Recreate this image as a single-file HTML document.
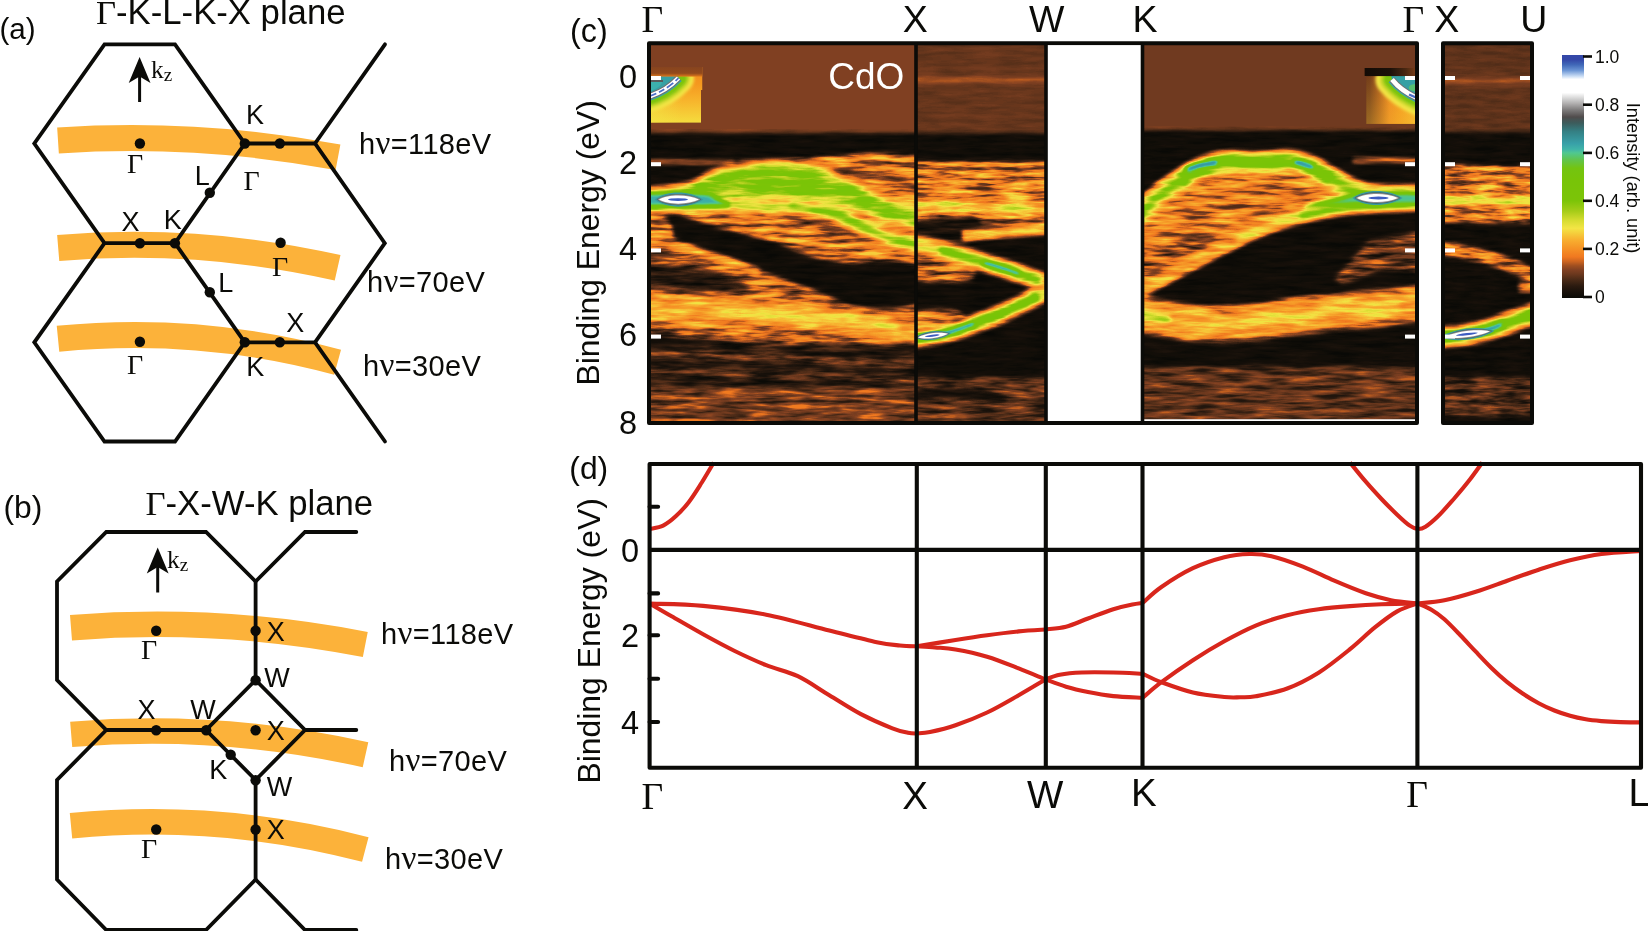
<!DOCTYPE html>
<html><head><meta charset="utf-8"><title>CdO ARPES figure</title>
<style>html,body{margin:0;padding:0;background:#fff;}body{width:1648px;height:931px;overflow:hidden;}svg{display:block;}</style>
</head><body>
<svg width="1648" height="931" viewBox="0 0 1648 931">
<rect width="1648" height="931" fill="#fff"/>
<g fill="none" stroke="#FCB23A" stroke-width="26">
<path d="M58,140.5 A1124,1124 0 0 1 338,157.3"/>
<path d="M58.2,248 A921,921 0 0 1 337.6,267.8"/>
<path d="M58,338.8 A776,776 0 0 1 337.6,362.2"/>
</g>
<g fill="none" stroke="#0b0b08" stroke-width="3.8" stroke-linejoin="miter" stroke-linecap="butt">
<path d="M104.5,44.3 L175,44.3 L244.8,143.5 L175,243.2 L104.5,243.2 L34.3,143.5 Z"/>
<path d="M104.5,243.2 L34.3,342.3 L104.5,441.5 L175,441.5 L244.8,342.3 L175,243.2"/>
<path d="M244.8,143.5 L315,143.5 L384.8,243.2 L315,342.3 L244.8,342.3"/>
<path d="M315,143.5 L385,44.3" stroke-linecap="round"/>
<path d="M315,342.3 L385,441.5" stroke-linecap="round"/>
</g>
<g fill="#0b0b08"><circle cx="139.9" cy="143.5" r="5.2"/><circle cx="244.8" cy="143.5" r="5.2"/><circle cx="279.8" cy="143.5" r="5.2"/><circle cx="209.8" cy="192.8" r="5.2"/><circle cx="139.9" cy="243.2" r="5.2"/><circle cx="174.9" cy="243.2" r="5.2"/><circle cx="280.6" cy="242.8" r="5.2"/><circle cx="209.8" cy="292.3" r="5.2"/><circle cx="244.8" cy="342.3" r="5.2"/><circle cx="279.8" cy="342.3" r="5.2"/><circle cx="139.9" cy="341.8" r="5.2"/></g>
<path d="M139.6,102 L139.6,72" stroke="#0b0b08" stroke-width="3" fill="none"/>
<path d="M139.6,57 L150.5,83 L139.6,76.5 L128.7,83 Z" fill="#0b0b08"/>
<g fill="none" stroke="#FCB23A" stroke-width="25.5">
<path d="M71,627.7 A1085,1085 0 0 1 365.3,644.5"/>
<path d="M71.2,734.4 A979,979 0 0 1 365.5,754.8"/>
<path d="M71,825.7 A842,842 0 0 1 365.3,849.5"/>
</g>
<g fill="none" stroke="#0b0b08" stroke-width="3.8" stroke-linejoin="miter" stroke-linecap="butt">
<path d="M106.3,532 L206,532 L255.6,581.5 L255.6,680 L206,730 L106.3,730 L57,680 L57,581.5 Z"/>
<path d="M106.3,730 L57,780 L57,879.5 L106.3,930 L206,930 L255.6,879.5 L255.6,780 L206,730"/>
<path d="M255.6,581.5 L305,532 L356.3,532" stroke-linecap="round"/>
<path d="M255.6,680 L305,730 L255.6,780"/>
<path d="M305,730 L356.3,730" stroke-linecap="round"/>
<path d="M255.6,879.5 L305,930 L356.3,930" stroke-linecap="round"/>
</g>
<g fill="#0b0b08"><circle cx="156.2" cy="630.8" r="5.2"/><circle cx="255.6" cy="630.8" r="5.2"/><circle cx="255.6" cy="680.2" r="5.2"/><circle cx="156.2" cy="730.2" r="5.2"/><circle cx="206.2" cy="730.2" r="5.2"/><circle cx="255.6" cy="730.2" r="5.2"/><circle cx="230.7" cy="754.8" r="5.2"/><circle cx="255.6" cy="780.2" r="5.2"/><circle cx="156.2" cy="829.5" r="5.2"/><circle cx="255.6" cy="829.5" r="5.2"/></g>
<path d="M157.7,592.5 L157.7,562" stroke="#0b0b08" stroke-width="3" fill="none"/>
<path d="M157.7,547.5 L168.6,573.5 L157.7,567 L146.8,573.5 Z" fill="#0b0b08"/>
<defs>
<filter id="fa1" filterUnits="userSpaceOnUse" x="640" y="36" width="910" height="396" color-interpolation-filters="sRGB"><feGaussianBlur in="SourceGraphic" stdDeviation="2.2" result="bl"/><feTurbulence type="fractalNoise" baseFrequency="0.028 0.21" numOctaves="3" seed="3" result="tn"/><feColorMatrix in="tn" type="matrix" values="1.80 0 0 0 -0.40  1.80 0 0 0 -0.40  1.80 0 0 0 -0.40  0 0 0 0 1" result="nz"/><feColorMatrix in="bl" type="matrix" values="1 0 0 0 0  1 0 0 0 0  1 0 0 0 0  0 0 0 0 1" result="I0"/><feColorMatrix in="bl" type="matrix" values="0 0.500 0 0 0  0 0.500 0 0 0  0 0.500 0 0 0  0 0 0 0 1" result="M"/><feComposite in="I0" in2="M" operator="arithmetic" k1="0" k2="1" k3="-1" k4="0" result="A"/><feComposite in="M" in2="nz" operator="arithmetic" k1="2" k2="0" k3="0" k4="0" result="Bn"/><feComposite in="A" in2="Bn" operator="arithmetic" k1="0" k2="1" k3="1" k4="0" result="I"/><feComponentTransfer in="I"><feFuncR type="table" tableValues="0.039 0.063 0.086 0.110 0.141 0.173 0.220 0.267 0.318 0.375 0.431 0.478 0.537 0.607 0.699 0.800 0.874 0.942 0.948 0.954 0.961 0.964 0.967 0.970 0.973 0.968 0.964 0.960 0.956 0.942 0.907 0.871 0.835 0.786 0.736 0.687 0.639 0.601 0.563 0.525 0.486 0.484 0.483 0.481 0.479 0.477 0.475 0.474 0.472 0.469 0.466 0.463 0.459 0.456 0.442 0.420 0.398 0.376 0.353 0.330 0.301 0.259 0.241 0.227 0.218 0.215 0.212 0.209 0.206 0.208 0.217"/><feFuncG type="table" tableValues="0.039 0.051 0.063 0.075 0.090 0.106 0.129 0.153 0.176 0.200 0.224 0.242 0.267 0.300 0.344 0.392 0.433 0.474 0.504 0.534 0.565 0.596 0.627 0.659 0.690 0.734 0.779 0.823 0.867 0.895 0.884 0.873 0.863 0.846 0.830 0.813 0.799 0.791 0.784 0.776 0.769 0.769 0.769 0.769 0.769 0.769 0.769 0.769 0.769 0.769 0.769 0.769 0.769 0.769 0.769 0.769 0.769 0.769 0.774 0.780 0.769 0.716 0.680 0.647 0.617 0.592 0.566 0.540 0.515 0.482 0.441"/><feFuncB type="table" tableValues="0.024 0.031 0.039 0.047 0.055 0.063 0.074 0.085 0.096 0.107 0.118 0.128 0.131 0.127 0.125 0.125 0.125 0.126 0.132 0.139 0.145 0.156 0.167 0.177 0.188 0.206 0.223 0.241 0.258 0.263 0.238 0.213 0.188 0.163 0.139 0.114 0.091 0.076 0.061 0.046 0.031 0.031 0.031 0.031 0.031 0.031 0.031 0.031 0.031 0.034 0.041 0.047 0.054 0.060 0.105 0.174 0.244 0.314 0.407 0.500 0.584 0.646 0.659 0.659 0.647 0.618 0.590 0.561 0.532 0.495 0.450"/></feComponentTransfer></filter>
<filter id="fa2" filterUnits="userSpaceOnUse" x="640" y="36" width="910" height="396" color-interpolation-filters="sRGB"><feGaussianBlur in="SourceGraphic" stdDeviation="2.2" result="bl"/><feTurbulence type="fractalNoise" baseFrequency="0.032 0.21" numOctaves="3" seed="11" result="tn"/><feColorMatrix in="tn" type="matrix" values="1.80 0 0 0 -0.40  1.80 0 0 0 -0.40  1.80 0 0 0 -0.40  0 0 0 0 1" result="nz"/><feColorMatrix in="bl" type="matrix" values="1 0 0 0 0  1 0 0 0 0  1 0 0 0 0  0 0 0 0 1" result="I0"/><feColorMatrix in="bl" type="matrix" values="0 0.500 0 0 0  0 0.500 0 0 0  0 0.500 0 0 0  0 0 0 0 1" result="M"/><feComposite in="I0" in2="M" operator="arithmetic" k1="0" k2="1" k3="-1" k4="0" result="A"/><feComposite in="M" in2="nz" operator="arithmetic" k1="2" k2="0" k3="0" k4="0" result="Bn"/><feComposite in="A" in2="Bn" operator="arithmetic" k1="0" k2="1" k3="1" k4="0" result="I"/><feComponentTransfer in="I"><feFuncR type="table" tableValues="0.039 0.063 0.086 0.110 0.141 0.173 0.220 0.267 0.318 0.375 0.431 0.478 0.537 0.607 0.699 0.800 0.874 0.942 0.948 0.954 0.961 0.964 0.967 0.970 0.973 0.968 0.964 0.960 0.956 0.942 0.907 0.871 0.835 0.786 0.736 0.687 0.639 0.601 0.563 0.525 0.486 0.484 0.483 0.481 0.479 0.477 0.475 0.474 0.472 0.469 0.466 0.463 0.459 0.456 0.442 0.420 0.398 0.376 0.353 0.330 0.301 0.259 0.241 0.227 0.218 0.215 0.212 0.209 0.206 0.208 0.217"/><feFuncG type="table" tableValues="0.039 0.051 0.063 0.075 0.090 0.106 0.129 0.153 0.176 0.200 0.224 0.242 0.267 0.300 0.344 0.392 0.433 0.474 0.504 0.534 0.565 0.596 0.627 0.659 0.690 0.734 0.779 0.823 0.867 0.895 0.884 0.873 0.863 0.846 0.830 0.813 0.799 0.791 0.784 0.776 0.769 0.769 0.769 0.769 0.769 0.769 0.769 0.769 0.769 0.769 0.769 0.769 0.769 0.769 0.769 0.769 0.769 0.769 0.774 0.780 0.769 0.716 0.680 0.647 0.617 0.592 0.566 0.540 0.515 0.482 0.441"/><feFuncB type="table" tableValues="0.024 0.031 0.039 0.047 0.055 0.063 0.074 0.085 0.096 0.107 0.118 0.128 0.131 0.127 0.125 0.125 0.125 0.126 0.132 0.139 0.145 0.156 0.167 0.177 0.188 0.206 0.223 0.241 0.258 0.263 0.238 0.213 0.188 0.163 0.139 0.114 0.091 0.076 0.061 0.046 0.031 0.031 0.031 0.031 0.031 0.031 0.031 0.031 0.031 0.034 0.041 0.047 0.054 0.060 0.105 0.174 0.244 0.314 0.407 0.500 0.584 0.646 0.659 0.659 0.647 0.618 0.590 0.561 0.532 0.495 0.450"/></feComponentTransfer></filter>
<filter id="fa3" filterUnits="userSpaceOnUse" x="640" y="36" width="910" height="396" color-interpolation-filters="sRGB"><feGaussianBlur in="SourceGraphic" stdDeviation="2.2" result="bl"/><feTurbulence type="fractalNoise" baseFrequency="0.028 0.21" numOctaves="3" seed="7" result="tn"/><feColorMatrix in="tn" type="matrix" values="1.80 0 0 0 -0.40  1.80 0 0 0 -0.40  1.80 0 0 0 -0.40  0 0 0 0 1" result="nz"/><feColorMatrix in="bl" type="matrix" values="1 0 0 0 0  1 0 0 0 0  1 0 0 0 0  0 0 0 0 1" result="I0"/><feColorMatrix in="bl" type="matrix" values="0 0.500 0 0 0  0 0.500 0 0 0  0 0.500 0 0 0  0 0 0 0 1" result="M"/><feComposite in="I0" in2="M" operator="arithmetic" k1="0" k2="1" k3="-1" k4="0" result="A"/><feComposite in="M" in2="nz" operator="arithmetic" k1="2" k2="0" k3="0" k4="0" result="Bn"/><feComposite in="A" in2="Bn" operator="arithmetic" k1="0" k2="1" k3="1" k4="0" result="I"/><feComponentTransfer in="I"><feFuncR type="table" tableValues="0.039 0.063 0.086 0.110 0.141 0.173 0.220 0.267 0.318 0.375 0.431 0.478 0.537 0.607 0.699 0.800 0.874 0.942 0.948 0.954 0.961 0.964 0.967 0.970 0.973 0.968 0.964 0.960 0.956 0.942 0.907 0.871 0.835 0.786 0.736 0.687 0.639 0.601 0.563 0.525 0.486 0.484 0.483 0.481 0.479 0.477 0.475 0.474 0.472 0.469 0.466 0.463 0.459 0.456 0.442 0.420 0.398 0.376 0.353 0.330 0.301 0.259 0.241 0.227 0.218 0.215 0.212 0.209 0.206 0.208 0.217"/><feFuncG type="table" tableValues="0.039 0.051 0.063 0.075 0.090 0.106 0.129 0.153 0.176 0.200 0.224 0.242 0.267 0.300 0.344 0.392 0.433 0.474 0.504 0.534 0.565 0.596 0.627 0.659 0.690 0.734 0.779 0.823 0.867 0.895 0.884 0.873 0.863 0.846 0.830 0.813 0.799 0.791 0.784 0.776 0.769 0.769 0.769 0.769 0.769 0.769 0.769 0.769 0.769 0.769 0.769 0.769 0.769 0.769 0.769 0.769 0.769 0.769 0.774 0.780 0.769 0.716 0.680 0.647 0.617 0.592 0.566 0.540 0.515 0.482 0.441"/><feFuncB type="table" tableValues="0.024 0.031 0.039 0.047 0.055 0.063 0.074 0.085 0.096 0.107 0.118 0.128 0.131 0.127 0.125 0.125 0.125 0.126 0.132 0.139 0.145 0.156 0.167 0.177 0.188 0.206 0.223 0.241 0.258 0.263 0.238 0.213 0.188 0.163 0.139 0.114 0.091 0.076 0.061 0.046 0.031 0.031 0.031 0.031 0.031 0.031 0.031 0.031 0.031 0.034 0.041 0.047 0.054 0.060 0.105 0.174 0.244 0.314 0.407 0.500 0.584 0.646 0.659 0.659 0.647 0.618 0.590 0.561 0.532 0.495 0.450"/></feComponentTransfer></filter>
<filter id="fa4" filterUnits="userSpaceOnUse" x="640" y="36" width="910" height="396" color-interpolation-filters="sRGB"><feGaussianBlur in="SourceGraphic" stdDeviation="2.2" result="bl"/><feTurbulence type="fractalNoise" baseFrequency="0.036 0.21" numOctaves="3" seed="23" result="tn"/><feColorMatrix in="tn" type="matrix" values="1.80 0 0 0 -0.40  1.80 0 0 0 -0.40  1.80 0 0 0 -0.40  0 0 0 0 1" result="nz"/><feColorMatrix in="bl" type="matrix" values="1 0 0 0 0  1 0 0 0 0  1 0 0 0 0  0 0 0 0 1" result="I0"/><feColorMatrix in="bl" type="matrix" values="0 0.500 0 0 0  0 0.500 0 0 0  0 0.500 0 0 0  0 0 0 0 1" result="M"/><feComposite in="I0" in2="M" operator="arithmetic" k1="0" k2="1" k3="-1" k4="0" result="A"/><feComposite in="M" in2="nz" operator="arithmetic" k1="2" k2="0" k3="0" k4="0" result="Bn"/><feComposite in="A" in2="Bn" operator="arithmetic" k1="0" k2="1" k3="1" k4="0" result="I"/><feComponentTransfer in="I"><feFuncR type="table" tableValues="0.039 0.063 0.086 0.110 0.141 0.173 0.220 0.267 0.318 0.375 0.431 0.478 0.537 0.607 0.699 0.800 0.874 0.942 0.948 0.954 0.961 0.964 0.967 0.970 0.973 0.968 0.964 0.960 0.956 0.942 0.907 0.871 0.835 0.786 0.736 0.687 0.639 0.601 0.563 0.525 0.486 0.484 0.483 0.481 0.479 0.477 0.475 0.474 0.472 0.469 0.466 0.463 0.459 0.456 0.442 0.420 0.398 0.376 0.353 0.330 0.301 0.259 0.241 0.227 0.218 0.215 0.212 0.209 0.206 0.208 0.217"/><feFuncG type="table" tableValues="0.039 0.051 0.063 0.075 0.090 0.106 0.129 0.153 0.176 0.200 0.224 0.242 0.267 0.300 0.344 0.392 0.433 0.474 0.504 0.534 0.565 0.596 0.627 0.659 0.690 0.734 0.779 0.823 0.867 0.895 0.884 0.873 0.863 0.846 0.830 0.813 0.799 0.791 0.784 0.776 0.769 0.769 0.769 0.769 0.769 0.769 0.769 0.769 0.769 0.769 0.769 0.769 0.769 0.769 0.769 0.769 0.769 0.769 0.774 0.780 0.769 0.716 0.680 0.647 0.617 0.592 0.566 0.540 0.515 0.482 0.441"/><feFuncB type="table" tableValues="0.024 0.031 0.039 0.047 0.055 0.063 0.074 0.085 0.096 0.107 0.118 0.128 0.131 0.127 0.125 0.125 0.125 0.126 0.132 0.139 0.145 0.156 0.167 0.177 0.188 0.206 0.223 0.241 0.258 0.263 0.238 0.213 0.188 0.163 0.139 0.114 0.091 0.076 0.061 0.046 0.031 0.031 0.031 0.031 0.031 0.031 0.031 0.031 0.031 0.034 0.041 0.047 0.054 0.060 0.105 0.174 0.244 0.314 0.407 0.500 0.584 0.646 0.659 0.659 0.647 0.618 0.590 0.561 0.532 0.495 0.450"/></feComponentTransfer></filter>
<clipPath id="cs1"><rect x="650" y="45" width="265" height="376.5"/></clipPath>
<clipPath id="cs2"><rect x="917" y="45" width="128" height="376.5"/></clipPath>
<clipPath id="cs3"><rect x="1143" y="45" width="273" height="374.3"/></clipPath>
<clipPath id="cs4"><rect x="1444" y="45" width="87" height="376.5"/></clipPath>
</defs>
<g clip-path="url(#cs1)"><g filter="url(#fa1)"><rect x="640.0" y="36.0" width="290.0" height="400.0" fill="#000900"/>
<rect x="640.0" y="36.0" width="290.0" height="97.5" fill="#2a0900"/>
<path d="M636.0,200.0 C644.7,198.5 675.3,195.2 688.0,191.0 C700.7,186.8 704.2,179.7 712.0,175.0 C719.8,170.3 727.0,165.5 735.0,163.0 C743.0,160.5 727.5,160.5 760.0,160.0 C792.5,159.5 901.7,143.7 930.0,160.0 C958.3,176.3 936.7,241.2 930.0,258.0 C923.3,274.8 902.2,260.0 890.0,261.0 C877.8,262.0 867.8,264.2 857.0,264.0 C846.2,263.8 834.5,261.8 825.0,260.0 C815.5,258.2 808.5,255.8 800.0,253.0 C791.5,250.2 787.0,247.0 774.0,243.0 C761.0,239.0 739.2,234.0 722.0,229.0 C704.8,224.0 685.3,215.7 671.0,213.0 C656.7,210.3 641.8,213.0 636.0,213.0 Z" fill="#3b4c00"/>
<rect x="640.0" y="159.5" width="95.0" height="5.0" fill="#372400"/>
<path d="M830.0,168.0 C836.7,169.3 853.3,172.3 870.0,176.0 C886.7,179.7 920.0,187.7 930.0,190.0" fill="none" stroke="#1a2400" stroke-width="4.0" stroke-linecap="butt"/>
<path d="M760.0,206.0 C770.0,209.3 800.0,221.0 820.0,226.0 C840.0,231.0 870.0,234.3 880.0,236.0" fill="none" stroke="#1d2c00" stroke-width="4.0" stroke-linecap="butt"/>
<path d="M636.0,226.0 C641.8,227.7 656.7,230.8 671.0,236.0 C685.3,241.2 707.0,251.3 722.0,257.0 C737.0,262.7 748.0,265.5 761.0,270.0 C774.0,274.5 787.2,279.2 800.0,284.0 C812.8,288.8 828.5,295.3 838.0,299.0 C847.5,302.7 848.3,304.4 857.0,306.0 C865.7,307.6 877.8,308.5 890.0,308.5 C902.2,308.5 923.3,299.1 930.0,306.0 C936.7,312.9 979.0,345.2 930.0,350.0 C881.0,354.8 685.0,337.5 636.0,335.0 Z" fill="#344900"/>
<path d="M636.0,215.0 C640.0,214.8 654.2,212.5 660.0,214.0 C665.8,215.5 669.2,220.2 671.0,224.0 C672.8,227.8 676.8,236.0 671.0,237.0 C665.2,238.0 641.8,231.2 636.0,230.0 Z" fill="#3e4900"/>
<path d="M636.0,243.0 C646.7,244.5 679.3,247.2 700.0,252.0 C720.7,256.8 750.0,268.7 760.0,272.0" fill="none" stroke="#503a00" stroke-width="7.0" stroke-linecap="butt"/>
<path d="M636.0,263.0 C646.7,264.0 681.3,265.0 700.0,269.0 C718.7,273.0 748.0,283.2 748.0,287.0 C748.0,290.8 718.7,292.3 700.0,292.0 C681.3,291.7 646.7,286.2 636.0,285.0 Z" fill="#101d00"/>
<path d="M636.0,310.0 C659.0,310.6 738.2,311.8 774.0,313.7 C809.8,315.6 831.7,318.9 851.0,321.5 C870.3,324.1 876.8,326.4 890.0,329.0 C903.2,331.6 923.3,335.7 930.0,337.0" fill="none" stroke="#453a00" stroke-width="32.0" stroke-linecap="butt"/>
<path d="M636.0,310.0 C659.0,310.6 738.2,311.8 774.0,313.7 C809.8,315.6 831.7,318.9 851.0,321.5 C870.3,324.1 876.8,326.4 890.0,329.0 C903.2,331.6 923.3,335.7 930.0,337.0" fill="none" stroke="#572c00" stroke-width="18.0" stroke-linecap="butt"/>
<path d="M740.0,312.0 C758.5,313.3 824.3,317.0 851.0,320.0 C877.7,323.0 891.8,328.3 900.0,330.0" fill="none" stroke="#642400" stroke-width="7.0" stroke-linecap="butt"/>
<rect x="640.0" y="344.0" width="290.0" height="42.0" fill="#101d00"/>
<path d="M636.0,353.0 C656.7,353.7 711.0,354.8 760.0,357.0 C809.0,359.2 901.7,364.5 930.0,366.0" fill="none" stroke="#2c3a00" stroke-width="5.0" stroke-linecap="butt"/>
<path d="M636.0,371.0 C663.3,371.8 751.0,374.3 800.0,376.0 C849.0,377.7 908.3,380.2 930.0,381.0" fill="none" stroke="#283a00" stroke-width="4.0" stroke-linecap="butt"/>
<rect x="640.0" y="387.0" width="290.0" height="50.0" fill="#282f00"/>
<path d="M640.0,187.0 C644.7,186.5 659.5,185.2 668.0,184.0 C676.5,182.8 684.2,182.2 691.0,180.0 C697.8,177.8 701.7,173.3 709.0,170.5 C716.3,167.7 724.8,164.8 735.0,163.0 C745.2,161.2 758.2,159.8 770.0,159.5 C781.8,159.2 796.0,159.6 806.0,161.0 C816.0,162.4 822.7,165.3 830.0,168.0 C837.3,170.7 843.3,173.8 850.0,177.0 C856.7,180.2 863.3,183.8 870.0,187.0 C876.7,190.2 879.2,191.7 890.0,196.0 C900.8,200.3 927.5,206.2 935.0,213.0 C942.5,219.8 942.5,235.0 935.0,237.0 C927.5,239.0 902.3,228.5 890.0,225.0 C877.7,221.5 869.3,218.5 861.0,216.0 C852.7,213.5 847.7,211.8 840.0,210.0 C832.3,208.2 823.3,206.2 815.0,205.0 C806.7,203.8 799.2,203.3 790.0,203.0 C780.8,202.7 769.2,202.8 760.0,203.0 C750.8,203.2 742.5,203.7 735.0,204.5 C727.5,205.3 720.8,206.8 715.0,208.0 C709.2,209.2 707.8,210.8 700.0,212.0 C692.2,213.2 678.0,214.5 668.0,215.0 C658.0,215.5 644.7,215.0 640.0,215.0 Z" fill="#4c3300"/>
<path d="M640.0,190.5 C644.7,190.0 659.5,188.7 668.0,187.5 C676.5,186.3 684.2,185.8 691.0,183.5 C697.8,181.2 701.7,176.8 709.0,174.0 C716.3,171.2 724.8,168.3 735.0,166.5 C745.2,164.7 758.2,163.3 770.0,163.0 C781.8,162.7 796.0,163.1 806.0,164.5 C816.0,165.9 822.7,168.8 830.0,171.5 C837.3,174.2 843.3,177.3 850.0,180.5 C856.7,183.7 863.3,187.3 870.0,190.5 C876.7,193.7 879.2,195.2 890.0,199.5 C900.8,203.8 927.5,210.8 935.0,216.5 C942.5,222.2 942.5,232.7 935.0,233.5 C927.5,234.3 902.3,225.0 890.0,221.5 C877.7,218.0 869.3,215.0 861.0,212.5 C852.7,210.0 847.7,208.3 840.0,206.5 C832.3,204.7 823.3,202.7 815.0,201.5 C806.7,200.3 799.2,199.8 790.0,199.5 C780.8,199.2 769.2,199.2 760.0,199.5 C750.8,199.8 742.5,200.2 735.0,201.0 C727.5,201.8 720.8,203.2 715.0,204.5 C709.2,205.8 707.8,207.3 700.0,208.5 C692.2,209.7 678.0,211.0 668.0,211.5 C658.0,212.0 644.7,211.5 640.0,211.5 Z" fill="#6d2c00"/>
<path d="M640.0,194.5 C644.7,194.0 659.5,192.7 668.0,191.5 C676.5,190.3 684.2,189.8 691.0,187.5 C697.8,185.2 701.7,180.8 709.0,178.0 C716.3,175.2 724.8,172.3 735.0,170.5 C745.2,168.7 758.2,167.3 770.0,167.0 C781.8,166.7 796.0,167.1 806.0,168.5 C816.0,169.9 822.7,172.8 830.0,175.5 C837.3,178.2 843.3,181.3 850.0,184.5 C856.7,187.7 863.3,191.3 870.0,194.5 C876.7,197.7 879.2,199.2 890.0,203.5 C900.8,207.8 927.5,216.2 935.0,220.5 C942.5,224.8 942.5,230.0 935.0,229.5 C927.5,229.0 902.3,221.0 890.0,217.5 C877.7,214.0 869.3,211.0 861.0,208.5 C852.7,206.0 847.7,204.3 840.0,202.5 C832.3,200.7 823.3,198.7 815.0,197.5 C806.7,196.3 799.2,195.8 790.0,195.5 C780.8,195.2 769.2,195.2 760.0,195.5 C750.8,195.8 742.5,196.2 735.0,197.0 C727.5,197.8 720.8,199.2 715.0,200.5 C709.2,201.8 707.8,203.3 700.0,204.5 C692.2,205.7 678.0,207.0 668.0,207.5 C658.0,208.0 644.7,207.5 640.0,207.5 Z" fill="#923e00"/>
<path d="M700.0,205.0 C710.0,205.1 742.3,205.2 760.0,205.5 C777.7,205.8 793.5,205.6 806.0,207.0 C818.5,208.4 825.8,210.8 835.0,214.0 C844.2,217.2 851.8,221.8 861.0,226.0 C870.2,230.2 877.7,235.0 890.0,239.0 C902.3,243.0 927.5,248.2 935.0,250.0" fill="none" stroke="#543300" stroke-width="17.0" stroke-linecap="butt"/>
<path d="M700.0,205.0 C710.0,205.1 742.3,205.2 760.0,205.5 C777.7,205.8 793.5,205.6 806.0,207.0 C818.5,208.4 825.8,210.8 835.0,214.0 C844.2,217.2 851.8,221.8 861.0,226.0 C870.2,230.2 877.7,235.0 890.0,239.0 C902.3,243.0 927.5,248.2 935.0,250.0" fill="none" stroke="#712c00" stroke-width="10.0" stroke-linecap="butt"/>
<path d="M790.0,206.0 C797.5,207.3 823.2,210.7 835.0,214.0 C846.8,217.3 851.8,221.8 861.0,226.0 C870.2,230.2 877.7,235.0 890.0,239.0 C902.3,243.0 927.5,248.2 935.0,250.0" fill="none" stroke="#952c00" stroke-width="6.0" stroke-linecap="butt"/>
<path d="M640.0,193.0 C650.0,193.1 687.3,192.7 700.0,193.5 C712.7,194.3 711.0,196.0 716.0,198.0 C721.0,200.0 730.7,204.1 730.0,205.5 C729.3,206.9 718.7,206.1 712.0,206.3 C705.3,206.5 702.0,206.5 690.0,206.5 C678.0,206.5 648.3,206.5 640.0,206.5 Z" fill="#e20000"/></g></g>
<g clip-path="url(#cs2)"><g filter="url(#fa2)"><rect x="905.0" y="36.0" width="150.0" height="400.0" fill="#000900"/>
<rect x="905.0" y="36.0" width="150.0" height="98.0" fill="#220700"/>
<rect x="905.0" y="77.0" width="150.0" height="6.0" fill="#330900"/>
<rect x="905.0" y="161.5" width="150.0" height="63.0" fill="#3f4c00"/>
<path d="M905.0,203.5 C914.2,203.9 935.0,204.9 960.0,206.0 C985.0,207.1 1039.2,209.3 1055.0,210.0" fill="none" stroke="#6f2c00" stroke-width="8.0" stroke-linecap="butt"/>
<path d="M905.0,222.0 C916.7,221.3 963.3,214.0 975.0,218.0 C986.7,222.0 986.7,241.3 975.0,246.0 C963.3,250.7 916.7,246.0 905.0,246.0 Z" fill="#071600"/>
<path d="M962.0,236.0 C968.3,235.5 984.5,234.2 1000.0,233.0 C1015.5,231.8 1045.8,229.7 1055.0,229.0" fill="none" stroke="#622c00" stroke-width="10.0" stroke-linecap="butt"/>
<path d="M905.0,254.0 C914.5,255.0 950.8,255.7 962.0,260.0 C973.2,264.3 981.5,276.2 972.0,280.0 C962.5,283.8 916.2,282.5 905.0,283.0 Z" fill="#334900"/>
<path d="M905.0,243.0 C912.0,244.4 933.0,248.1 947.0,251.6 C961.0,255.1 976.5,260.2 989.0,264.0 C1001.5,267.8 1011.0,270.7 1022.0,274.6 C1033.0,278.5 1049.5,285.4 1055.0,287.5" fill="none" stroke="#492c00" stroke-width="20.0" stroke-linecap="butt"/>
<path d="M905.0,243.0 C912.0,244.4 933.0,248.1 947.0,251.6 C961.0,255.1 976.5,260.2 989.0,264.0 C1001.5,267.8 1011.0,270.7 1022.0,274.6 C1033.0,278.5 1049.5,285.4 1055.0,287.5" fill="none" stroke="#6a2400" stroke-width="12.0" stroke-linecap="butt"/>
<path d="M905.0,340.0 C912.0,338.8 933.0,336.6 947.0,333.0 C961.0,329.4 976.5,323.4 989.0,318.6 C1001.5,313.8 1011.0,309.3 1022.0,304.0 C1033.0,298.7 1049.5,289.8 1055.0,287.0" fill="none" stroke="#492c00" stroke-width="20.0" stroke-linecap="butt"/>
<path d="M905.0,340.0 C912.0,338.8 933.0,336.6 947.0,333.0 C961.0,329.4 976.5,323.4 989.0,318.6 C1001.5,313.8 1011.0,309.3 1022.0,304.0 C1033.0,298.7 1049.5,289.8 1055.0,287.0" fill="none" stroke="#6a2400" stroke-width="12.0" stroke-linecap="butt"/>
<path d="M940.0,250.0 C948.2,252.3 975.3,259.9 989.0,264.0 C1002.7,268.1 1013.5,271.8 1022.0,274.6 C1030.5,277.4 1037.0,279.9 1040.0,281.0" fill="none" stroke="#a41d00" stroke-width="6.0" stroke-linecap="butt"/>
<path d="M905.0,340.0 C912.0,338.8 933.0,336.6 947.0,333.0 C961.0,329.4 976.5,323.4 989.0,318.6 C1001.5,313.8 1013.8,307.8 1022.0,304.0 C1030.2,300.2 1035.3,297.3 1038.0,296.0" fill="none" stroke="#a81d00" stroke-width="8.0" stroke-linecap="butt"/>
<path d="M983.0,262.5 C985.8,263.3 993.8,265.6 1000.0,267.5 C1006.2,269.4 1016.7,272.9 1020.0,274.0" fill="none" stroke="#ff0000" stroke-width="5.0" stroke-linecap="butt"/>
<path d="M905.0,338.5 C912.0,337.5 935.3,335.1 947.0,332.5 C958.7,329.9 970.3,324.6 975.0,323.0" fill="none" stroke="#f80000" stroke-width="5.0" stroke-linecap="butt"/>
<path d="M905.0,312.0 C912.5,311.5 940.0,308.0 950.0,309.0 C960.0,310.0 966.7,314.8 965.0,318.0 C963.3,321.2 950.0,325.8 940.0,328.0 C930.0,330.2 910.8,330.5 905.0,331.0 Z" fill="#3e4200"/>
<rect x="905.0" y="377.0" width="150.0" height="60.0" fill="#1f2c00"/>
<path d="M905.0,392.0 C912.5,391.3 934.2,387.7 950.0,388.0 C965.8,388.3 991.7,391.7 1000.0,394.0 C1008.3,396.3 1008.3,401.3 1000.0,402.0 C991.7,402.7 965.8,398.0 950.0,398.0 C934.2,398.0 912.5,401.3 905.0,402.0 Z" fill="#070f00"/></g></g>
<g clip-path="url(#cs3)"><g filter="url(#fa3)"><rect x="1130.0" y="36.0" width="300.0" height="400.0" fill="#000900"/>
<rect x="1130.0" y="36.0" width="300.0" height="95.0" fill="#260900"/>
<rect x="1352.0" y="157.0" width="80.0" height="6.5" fill="#372400"/>
<path d="M1130.0,200.0 C1135.2,197.7 1152.7,191.2 1161.5,186.0 C1170.3,180.8 1175.8,173.7 1183.0,169.0 C1190.2,164.3 1196.7,160.8 1204.5,158.0 C1212.3,155.2 1220.8,152.5 1230.0,152.0 C1239.2,151.5 1250.0,154.7 1260.0,155.0 C1270.0,155.3 1281.3,153.2 1290.0,154.0 C1298.7,154.8 1304.8,157.2 1312.0,160.0 C1319.2,162.8 1325.8,167.3 1333.0,171.0 C1340.2,174.7 1347.8,179.2 1355.0,182.0 C1362.2,184.8 1368.5,185.0 1376.0,188.0 C1383.5,191.0 1405.0,196.7 1400.0,200.0 C1395.0,203.3 1363.5,205.0 1346.0,208.0 C1328.5,211.0 1310.0,214.2 1295.0,218.0 C1280.0,221.8 1266.8,226.7 1256.0,231.0 C1245.2,235.3 1238.7,239.7 1230.0,244.0 C1221.3,248.3 1212.5,252.7 1204.0,257.0 C1195.5,261.3 1191.3,264.2 1179.0,270.0 C1166.7,275.8 1138.2,288.3 1130.0,292.0 Z" fill="#3f4500"/>
<path d="M1130.0,250.0 C1135.0,249.3 1148.3,249.0 1160.0,246.0 C1171.7,243.0 1190.8,233.0 1200.0,232.0 C1209.2,231.0 1218.5,235.0 1215.0,240.0 C1211.5,245.0 1193.2,255.3 1179.0,262.0 C1164.8,268.7 1138.2,277.0 1130.0,280.0 Z" fill="#2f4900"/>
<path d="M1132.0,222.0 C1136.2,218.0 1149.0,204.8 1157.0,198.0 C1165.0,191.2 1172.7,185.9 1180.0,181.0 C1187.3,176.1 1193.0,171.7 1201.0,168.5 C1209.0,165.3 1218.5,162.9 1228.0,162.0 C1237.5,161.1 1247.7,163.1 1258.0,163.0 C1268.3,162.9 1281.0,160.7 1290.0,161.5 C1299.0,162.3 1305.2,165.1 1312.0,168.0 C1318.8,170.9 1324.7,175.5 1331.0,179.0 C1337.3,182.5 1343.2,186.2 1350.0,189.0 C1356.8,191.8 1358.7,194.1 1372.0,195.5 C1385.3,196.9 1420.3,197.2 1430.0,197.5" fill="none" stroke="#503300" stroke-width="25.0" stroke-linecap="butt"/>
<path d="M1132.0,222.0 C1136.2,218.0 1149.0,204.8 1157.0,198.0 C1165.0,191.2 1172.7,185.9 1180.0,181.0 C1187.3,176.1 1193.0,171.7 1201.0,168.5 C1209.0,165.3 1218.5,162.9 1228.0,162.0 C1237.5,161.1 1247.7,163.1 1258.0,163.0 C1268.3,162.9 1281.0,160.7 1290.0,161.5 C1299.0,162.3 1305.2,165.1 1312.0,168.0 C1318.8,170.9 1324.7,175.5 1331.0,179.0 C1337.3,182.5 1343.2,186.2 1350.0,189.0 C1356.8,191.8 1358.7,194.1 1372.0,195.5 C1385.3,196.9 1420.3,197.2 1430.0,197.5" fill="none" stroke="#6d2c00" stroke-width="17.0" stroke-linecap="butt"/>
<path d="M1132.0,222.0 C1136.2,218.0 1149.0,204.8 1157.0,198.0 C1165.0,191.2 1172.7,185.9 1180.0,181.0 C1187.3,176.1 1193.0,171.7 1201.0,168.5 C1209.0,165.3 1218.5,162.9 1228.0,162.0 C1237.5,161.1 1247.7,163.1 1258.0,163.0 C1268.3,162.9 1281.0,160.7 1290.0,161.5 C1299.0,162.3 1305.2,165.1 1312.0,168.0 C1318.8,170.9 1324.7,175.5 1331.0,179.0 C1337.3,182.5 1343.2,186.2 1350.0,189.0 C1356.8,191.8 1358.7,194.1 1372.0,195.5 C1385.3,196.9 1420.3,197.2 1430.0,197.5" fill="none" stroke="#992c00" stroke-width="7.5" stroke-linecap="butt"/>
<path d="M1180.0,181.0 C1183.5,178.9 1193.0,171.7 1201.0,168.5 C1209.0,165.3 1218.5,162.9 1228.0,162.0 C1237.5,161.1 1247.7,163.1 1258.0,163.0 C1268.3,162.9 1281.0,160.7 1290.0,161.5 C1299.0,162.3 1305.2,165.1 1312.0,168.0 C1318.8,170.9 1327.8,177.2 1331.0,179.0" fill="none" stroke="#9d2c00" stroke-width="12.5" stroke-linecap="butt"/>
<path d="M1186.0,170.0 C1188.3,169.2 1194.7,166.3 1200.0,165.0 C1205.3,163.7 1215.0,162.5 1218.0,162.0" fill="none" stroke="#ff0000" stroke-width="5.5" stroke-linecap="butt"/>
<path d="M1294.0,161.5 C1297.3,162.5 1310.7,166.5 1314.0,167.5" fill="none" stroke="#ff0000" stroke-width="5.0" stroke-linecap="butt"/>
<path d="M1430.0,203.0 C1424.7,203.3 1412.0,204.2 1398.0,205.0 C1384.0,205.8 1363.2,205.8 1346.0,208.0 C1328.8,210.2 1310.0,214.2 1295.0,218.0 C1280.0,221.8 1266.8,226.7 1256.0,231.0 C1245.2,235.3 1238.7,239.7 1230.0,244.0 C1221.3,248.3 1212.5,252.7 1204.0,257.0 C1195.5,261.3 1191.3,263.5 1179.0,270.0 C1166.7,276.5 1138.2,291.7 1130.0,296.0" fill="none" stroke="#503300" stroke-width="15.0" stroke-linecap="butt"/>
<path d="M1430.0,203.0 C1424.7,203.3 1412.0,204.2 1398.0,205.0 C1384.0,205.8 1363.2,205.8 1346.0,208.0 C1328.8,210.2 1310.0,214.2 1295.0,218.0 C1280.0,221.8 1265.8,227.2 1256.0,231.0 C1246.2,234.8 1239.3,239.3 1236.0,241.0" fill="none" stroke="#6a2400" stroke-width="8.0" stroke-linecap="butt"/>
<path d="M1430.0,203.0 C1424.7,203.3 1412.0,204.2 1398.0,205.0 C1384.0,205.8 1362.3,206.1 1346.0,208.0 C1329.7,209.9 1307.7,215.1 1300.0,216.5" fill="none" stroke="#992400" stroke-width="5.5" stroke-linecap="butt"/>
<path d="M1430.0,193.5 C1425.0,193.3 1410.8,192.5 1400.0,192.5 C1389.2,192.5 1375.0,192.6 1365.0,193.5 C1355.0,194.4 1350.3,195.8 1340.0,198.0 C1329.7,200.2 1303.0,205.4 1303.0,206.5 C1303.0,207.6 1329.7,205.3 1340.0,204.8 C1350.3,204.3 1355.0,203.8 1365.0,203.7 C1375.0,203.6 1389.2,204.0 1400.0,204.0 C1410.8,204.0 1425.0,203.6 1430.0,203.5 Z" fill="#db0000"/>
<path d="M1367.0,241.0 C1371.7,240.2 1384.5,237.5 1395.0,236.0 C1405.5,234.5 1424.2,226.0 1430.0,232.0 C1435.8,238.0 1437.5,265.7 1430.0,272.0 C1422.5,278.3 1399.2,268.0 1385.0,270.0 C1370.8,272.0 1353.5,282.7 1345.0,284.0 C1336.5,285.3 1335.8,279.0 1334.0,278.0 Z" fill="#243e00"/>
<path d="M1130.0,313.0 C1142.3,314.8 1183.0,322.6 1204.0,324.0 C1225.0,325.4 1240.8,322.8 1256.0,321.5 C1271.2,320.2 1280.0,317.8 1295.0,316.0 C1310.0,314.2 1323.5,313.2 1346.0,311.0 C1368.5,308.8 1416.0,304.3 1430.0,303.0" fill="none" stroke="#423a00" stroke-width="38.0" stroke-linecap="butt"/>
<path d="M1130.0,313.0 C1142.3,314.8 1183.0,322.6 1204.0,324.0 C1225.0,325.4 1240.8,322.8 1256.0,321.5 C1271.2,320.2 1280.0,317.8 1295.0,316.0 C1310.0,314.2 1323.5,313.2 1346.0,311.0 C1368.5,308.8 1416.0,304.3 1430.0,303.0" fill="none" stroke="#552c00" stroke-width="22.0" stroke-linecap="butt"/>
<path d="M1210.0,323.0 C1217.7,322.5 1241.8,321.3 1256.0,320.0 C1270.2,318.7 1280.0,316.7 1295.0,315.0 C1310.0,313.3 1328.5,311.7 1346.0,310.0 C1363.5,308.3 1391.0,305.8 1400.0,305.0" fill="none" stroke="#622400" stroke-width="8.0" stroke-linecap="butt"/>
<path d="M1130.0,312.0 C1133.3,312.5 1143.3,313.9 1150.0,315.0 C1156.7,316.1 1166.7,317.9 1170.0,318.5" fill="none" stroke="#7c2400" stroke-width="9.0" stroke-linecap="butt"/>
<path d="M1130.0,352.0 C1141.7,351.5 1176.7,348.3 1200.0,349.0 C1223.3,349.7 1246.7,355.5 1270.0,356.0 C1293.3,356.5 1313.3,351.7 1340.0,352.0 C1366.7,352.3 1415.0,357.0 1430.0,358.0" fill="none" stroke="#000b00" stroke-width="16.0" stroke-linecap="butt"/>
<rect x="1130.0" y="366.0" width="300.0" height="70.0" fill="#212800"/></g></g>
<g clip-path="url(#cs4)"><g filter="url(#fa4)"><rect x="1435.0" y="36.0" width="110.0" height="400.0" fill="#000900"/>
<rect x="1435.0" y="36.0" width="110.0" height="97.0" fill="#200700"/>
<rect x="1435.0" y="78.0" width="110.0" height="6.0" fill="#330900"/>
<rect x="1435.0" y="165.0" width="110.0" height="58.0" fill="#3f4c00"/>
<path d="M1435.0,201.0 C1453.3,201.0 1526.7,201.0 1545.0,201.0" fill="none" stroke="#6f2c00" stroke-width="8.0" stroke-linecap="butt"/>
<path d="M1435.0,247.0 C1444.2,248.8 1471.7,252.7 1490.0,258.0 C1508.3,263.3 1535.8,275.5 1545.0,279.0" fill="none" stroke="#3e4900" stroke-width="14.0" stroke-linecap="butt"/>
<rect x="1518.0" y="281.0" width="30.0" height="11.0" fill="#493a00"/>
<path d="M1435.0,338.5 C1442.5,337.4 1467.5,334.8 1480.0,332.0 C1492.5,329.2 1499.2,325.7 1510.0,322.0 C1520.8,318.3 1539.2,312.0 1545.0,310.0" fill="none" stroke="#492c00" stroke-width="23.0" stroke-linecap="butt"/>
<path d="M1435.0,338.5 C1442.5,337.4 1467.5,334.8 1480.0,332.0 C1492.5,329.2 1499.2,325.7 1510.0,322.0 C1520.8,318.3 1539.2,312.0 1545.0,310.0" fill="none" stroke="#6d2400" stroke-width="15.0" stroke-linecap="butt"/>
<path d="M1435.0,338.5 C1442.5,337.4 1467.5,334.8 1480.0,332.0 C1492.5,329.2 1499.2,325.7 1510.0,322.0 C1520.8,318.3 1539.2,312.0 1545.0,310.0" fill="none" stroke="#a81d00" stroke-width="9.5" stroke-linecap="butt"/>
<path d="M1435.0,337.0 C1442.5,336.1 1468.7,333.7 1480.0,331.5 C1491.3,329.3 1499.2,325.2 1503.0,324.0" fill="none" stroke="#f80000" stroke-width="5.5" stroke-linecap="butt"/>
<rect x="1435.0" y="377.0" width="110.0" height="40.0" fill="#1c2c00"/></g></g>
<rect x="650" y="45" width="265" height="84" fill="#804022"/>
<rect x="1143" y="45" width="273" height="81.5" fill="#703a20"/>
<defs><linearGradient id="inL" x1="0" y1="0" x2="0" y2="1"><stop offset="0" stop-color="#f08a1e"/><stop offset="0.3" stop-color="#f5981f"/><stop offset="0.6" stop-color="#f7b42c"/><stop offset="1" stop-color="#f5dc3e"/></linearGradient>
<linearGradient id="inLh" x1="0" y1="0" x2="1" y2="0"><stop offset="0" stop-color="#f3e545" stop-opacity="0.55"/><stop offset="0.6" stop-color="#f3e545" stop-opacity="0"/></linearGradient>
<linearGradient id="inLt" x1="0" y1="0" x2="0" y2="1"><stop offset="0" stop-color="#86441f"/><stop offset="0.65" stop-color="#934a1c"/><stop offset="1" stop-color="#e07a1c"/></linearGradient>
<filter id="ib" filterUnits="userSpaceOnUse" x="600" y="20" width="900" height="160"><feGaussianBlur stdDeviation="1.6"/></filter>
<clipPath id="cinL"><path d="M651.0,67.0 H702.5 V90 H701 V122.8 H651.0 Z"/></clipPath></defs>
<g clip-path="url(#cinL)">
<rect x="651.0" y="67.0" width="51.5" height="55.8" fill="url(#inL)"/>
<rect x="651.0" y="67.0" width="51.5" height="55.8" fill="url(#inLh)"/>
<g filter="url(#ib)" fill="none" stroke-linecap="round">
<path d="M645,97.5 C657,94.5 670,87 678.5,78" stroke="#f3e545" stroke-width="31"/>
<path d="M645,97.5 C657,94.5 670,87 678.5,78" stroke="#c4d628" stroke-width="23"/>
<path d="M645,97.5 C657,94.5 670,87 678.5,78" stroke="#7cc408" stroke-width="17.5"/>
</g>
<path d="M645,97.5 C657,94.5 670,87 678.5,78" stroke="#3aa4a4" stroke-width="9" fill="none"/>
<path d="M645,70 H676 L678.5,78 C670,87 657,94.5 645,97.5 Z" fill="#36a0a4"/>
<path d="M651,80 H663 C662,84 659,88 651,91 Z" fill="#3cb0ac"/>
<path d="M645,97.5 C657,94.5 670,87 678.5,78" stroke="#707070" stroke-width="6.6" fill="none"/>
<path d="M645,97.5 C657,94.5 670,87 678.5,78" stroke="#ffffff" stroke-width="4.6" fill="none"/>
<path d="M645,97.5 C657,94.5 670,87 678.5,78" stroke="#4a6cc8" stroke-width="1.8" fill="none" stroke-dasharray="8 3 6 3" stroke-dashoffset="-4"/>
<rect x="651.0" y="67.0" width="51.5" height="9.6" fill="url(#inLt)"/>
<rect x="651" y="80" width="12" height="2" fill="#5a5a5a"/>
</g>
<defs><linearGradient id="inR" x1="0" y1="0" x2="1" y2="0"><stop offset="0" stop-color="#6a3518"/><stop offset="0.1" stop-color="#70381a"/><stop offset="0.3" stop-color="#b05c1c"/><stop offset="0.48" stop-color="#ec8420"/><stop offset="0.7" stop-color="#f5981f"/><stop offset="1" stop-color="#f7b42c"/></linearGradient>
<linearGradient id="inRt" x1="0" y1="0" x2="1" y2="0"><stop offset="0" stop-color="#120b06"/><stop offset="0.5" stop-color="#1c1109"/><stop offset="0.8" stop-color="#4a2812"/><stop offset="1" stop-color="#7a3e1a"/></linearGradient>
<linearGradient id="inRb" x1="0" y1="0" x2="0" y2="1"><stop offset="0" stop-color="#f3c834" stop-opacity="0"/><stop offset="1" stop-color="#f3c834" stop-opacity="0.35"/></linearGradient>
<clipPath id="cinR"><path d="M1364.4,67.9 H1416.0 V123.9 H1366.3 V76 H1364.4 Z"/></clipPath></defs>
<g clip-path="url(#cinR)">
<rect x="1364.4" y="67.9" width="51.6" height="56.0" fill="url(#inR)"/>
<rect x="1364.4" y="67.9" width="51.6" height="56.0" fill="url(#inRb)"/>
<g filter="url(#ib)" fill="none" stroke-linecap="round">
<path d="M1392,79.5 C1398,87 1407,94 1421,99.8" stroke="#f3e545" stroke-width="33"/>
<path d="M1392,79.5 C1398,87 1407,94 1421,99.8" stroke="#c4d628" stroke-width="24"/>
<path d="M1392,79.5 C1398,87 1407,94 1421,99.8" stroke="#7cc408" stroke-width="17.5"/>
</g>
<path d="M1392,79.5 C1398,87 1407,94 1421,99.8" stroke="#3aa4a4" stroke-width="9" fill="none"/>
<path d="M1421,70 H1390 L1392,79.5 C1398,87 1407,94 1421,99.8 Z" fill="#36a0a4"/>
<path d="M1416,84 C1410,84 1407,87 1410,90 L1416,92 Z" fill="#58c070"/>
<path d="M1392,79.5 C1398,87 1407,94 1421,99.8" stroke="#707070" stroke-width="6.6" fill="none"/>
<path d="M1392,79.5 C1398,87 1407,94 1421,99.8" stroke="#ffffff" stroke-width="4.6" fill="none"/>
<path d="M1409,94.5 L1416,97.5" stroke="#4a6cc8" stroke-width="2.4" fill="none"/>
<rect x="1364.4" y="67.9" width="51.6" height="8.2" fill="url(#inRt)"/>
</g>
<defs><filter id="sb" filterUnits="userSpaceOnUse" x="640" y="170" width="910" height="190"><feGaussianBlur stdDeviation="0.55"/></filter></defs>
<g filter="url(#sb)">
<path d="M654.6,199.6 C665.6,190.2 690.0,190.2 703.4,199.6 C690.0,209.0 665.6,209.0 654.6,199.6 Z" fill="#3a9aa0" transform="rotate(0.0 679.0 199.6)"/><path d="M656.6,199.6 C666.7,192.0 689.1,192.0 701.4,199.6 C689.1,207.2 666.7,207.2 656.6,199.6 Z" fill="#3c6468" transform="rotate(0.0 679.0 199.6)"/><path d="M657.4,199.6 C667.1,192.9 688.7,192.9 700.6,199.6 C688.7,206.3 667.1,206.3 657.4,199.6 Z" fill="#8c8c8c" transform="rotate(0.0 679.0 199.6)"/><path d="M659.0,199.6 C668.0,194.2 688.0,194.2 699.0,199.6 C688.0,205.0 668.0,205.0 659.0,199.6 Z" fill="#ffffff" transform="rotate(0.0 679.0 199.6)"/><ellipse cx="678.0" cy="199.6" rx="10.0" ry="1.4" fill="#3c5cc0" transform="rotate(0.0 679.0 199.6)"/>
<path d="M1352.5,198.0 C1363.7,188.6 1388.8,188.6 1402.5,198.0 C1388.8,207.4 1363.7,207.4 1352.5,198.0 Z" fill="#3a9aa0" transform="rotate(0.0 1377.5 198.0)"/><path d="M1354.5,198.0 C1364.9,190.4 1387.8,190.4 1400.5,198.0 C1387.8,205.6 1364.9,205.6 1354.5,198.0 Z" fill="#3c6468" transform="rotate(0.0 1377.5 198.0)"/><path d="M1355.4,198.0 C1365.3,191.3 1387.5,191.3 1399.6,198.0 C1387.5,204.7 1365.3,204.7 1355.4,198.0 Z" fill="#8c8c8c" transform="rotate(0.0 1377.5 198.0)"/><path d="M1357.0,198.0 C1366.2,192.6 1386.7,192.6 1398.0,198.0 C1386.7,203.4 1366.2,203.4 1357.0,198.0 Z" fill="#ffffff" transform="rotate(0.0 1377.5 198.0)"/><ellipse cx="1378.5" cy="198.0" rx="10.2" ry="1.4" fill="#3c5cc0" transform="rotate(0.0 1377.5 198.0)"/>
<path d="M914.7,335.6 C922.9,329.9 941.2,329.9 951.3,335.6 C941.2,341.3 922.9,341.3 914.7,335.6 Z" fill="#3a9aa0" transform="rotate(-7.0 933.0 335.6)"/><path d="M916.2,335.6 C923.8,331.0 940.6,331.0 949.8,335.6 C940.6,340.2 923.8,340.2 916.2,335.6 Z" fill="#3c6468" transform="rotate(-7.0 933.0 335.6)"/><path d="M916.8,335.6 C924.1,331.5 940.3,331.5 949.2,335.6 C940.3,339.7 924.1,339.7 916.8,335.6 Z" fill="#8c8c8c" transform="rotate(-7.0 933.0 335.6)"/><path d="M918.0,335.6 C924.8,332.4 939.8,332.4 948.0,335.6 C939.8,338.9 924.8,338.9 918.0,335.6 Z" fill="#ffffff" transform="rotate(-7.0 933.0 335.6)"/><ellipse cx="932.2" cy="335.6" rx="7.5" ry="1.0" fill="#3c5cc0" transform="rotate(-7.0 933.0 335.6)"/>
<path d="M1441.2,334.0 C1453.2,326.6 1480.1,326.6 1494.8,334.0 C1480.1,341.4 1453.2,341.4 1441.2,334.0 Z" fill="#3a9aa0" transform="rotate(-7.0 1468.0 334.0)"/><path d="M1443.4,334.0 C1454.4,328.0 1479.1,328.0 1492.6,334.0 C1479.1,340.0 1454.4,340.0 1443.4,334.0 Z" fill="#3c6468" transform="rotate(-7.0 1468.0 334.0)"/><path d="M1444.2,334.0 C1454.9,328.7 1478.7,328.7 1491.8,334.0 C1478.7,339.3 1454.9,339.3 1444.2,334.0 Z" fill="#8c8c8c" transform="rotate(-7.0 1468.0 334.0)"/><path d="M1446.0,334.0 C1455.9,329.8 1477.9,329.8 1490.0,334.0 C1477.9,338.2 1455.9,338.2 1446.0,334.0 Z" fill="#ffffff" transform="rotate(-7.0 1468.0 334.0)"/><ellipse cx="1466.9" cy="334.0" rx="11.0" ry="1.1" fill="#3c5cc0" transform="rotate(-7.0 1468.0 334.0)"/>
</g>
<g fill="none" stroke="#0b0b08" stroke-width="4" stroke-linejoin="round">
<rect x="649" y="43.3" width="768" height="379.7"/>
<rect x="1443" y="43.3" width="89" height="379.7"/>
</g>
<rect x="1046" y="45.3" width="96.5" height="375.7" fill="#fff"/>
<g fill="none" stroke="#0b0b08" stroke-width="3.6"><path d="M916,43.3 V423 M1046,43.3 V423 M1142.5,43.3 V423"/></g>
<g fill="#fff">
<rect x="651" y="76.0" width="10" height="4"/>
<rect x="1405" y="76.0" width="10" height="4"/>
<rect x="1445" y="76.0" width="10" height="4"/>
<rect x="1520" y="76.0" width="10" height="4"/>
<rect x="651" y="162.2" width="10" height="4"/>
<rect x="1405" y="162.2" width="10" height="4"/>
<rect x="1445" y="162.2" width="10" height="4"/>
<rect x="1520" y="162.2" width="10" height="4"/>
<rect x="651" y="248.4" width="10" height="4"/>
<rect x="1405" y="248.4" width="10" height="4"/>
<rect x="1445" y="248.4" width="10" height="4"/>
<rect x="1520" y="248.4" width="10" height="4"/>
<rect x="651" y="334.6" width="10" height="4"/>
<rect x="1405" y="334.6" width="10" height="4"/>
<rect x="1445" y="334.6" width="10" height="4"/>
<rect x="1520" y="334.6" width="10" height="4"/>
</g>
<g fill="none" stroke="#D8261C" stroke-width="4.1" stroke-linecap="butt" stroke-linejoin="round">
<path d="M649.8,529.0 C652.0,528.4 658.7,527.8 663.1,525.6 C667.5,523.5 671.7,520.1 676.0,516.1 C680.3,512.1 684.6,507.5 688.9,501.9 C693.2,496.3 697.6,489.1 701.8,482.5 C705.9,475.9 711.8,465.8 713.8,462.5"/>
<path d="M649.8,603.6 C658.7,604.0 683.7,604.0 703.1,605.9 C722.5,607.8 745.2,610.6 766.2,614.7 C787.2,618.8 810.9,625.9 829.3,630.5 C847.7,635.1 864.9,639.7 876.7,642.2 C888.5,644.7 893.3,644.8 900.0,645.5 C906.7,646.2 914.0,646.2 916.8,646.3"/>
<path d="M649.8,603.6 C653.4,605.7 662.7,611.2 671.6,616.3 C680.5,621.4 692.6,628.5 703.1,634.3 C713.6,640.1 724.2,645.9 734.7,651.0 C745.2,656.1 755.7,661.0 766.2,665.2 C776.7,669.4 787.3,671.2 797.8,676.2 C808.3,681.2 818.8,688.9 829.3,695.2 C839.8,701.5 850.4,708.6 860.9,714.1 C871.4,719.6 884.5,725.2 892.4,728.3 C900.2,731.4 903.9,731.8 908.0,732.7 C912.1,733.6 915.3,733.4 916.8,733.5"/>
<path d="M916.8,646.3 C923.2,645.2 943.8,641.9 955.5,640.0 C967.2,638.1 976.6,636.6 987.1,635.2 C997.6,633.8 1009.0,632.4 1018.7,631.4 C1028.4,630.4 1041.0,629.8 1045.5,629.5"/>
<path d="M1045.5,629.5 C1048.9,629.0 1058.9,628.5 1066.0,626.7 C1073.1,624.9 1080.1,621.4 1088.0,618.5 C1095.9,615.6 1105.9,611.6 1113.3,609.3 C1120.7,607.0 1127.4,605.6 1132.3,604.6 C1137.2,603.6 1140.8,603.3 1142.5,603.0"/>
<path d="M916.8,646.3 C919.8,646.5 928.5,647.0 935.0,647.5 C941.5,648.0 946.8,647.9 955.5,649.4 C964.2,650.9 976.6,653.5 987.1,656.7 C997.6,659.9 1009.0,664.6 1018.7,668.4 C1028.4,672.2 1041.0,677.6 1045.5,679.4"/>
<path d="M916.8,733.5 C919.0,733.2 923.5,733.4 930.0,732.0 C936.5,730.6 946.0,728.5 955.5,725.2 C965.0,722.0 976.6,717.5 987.1,712.5 C997.6,707.5 1009.0,700.7 1018.7,695.2 C1028.4,689.7 1041.0,682.0 1045.5,679.4"/>
<path d="M1045.5,679.4 C1047.9,678.6 1053.7,675.9 1059.7,674.7 C1065.8,673.6 1072.9,672.9 1081.8,672.5 C1090.7,672.1 1103.2,672.3 1113.3,672.5 C1123.4,672.7 1137.6,673.5 1142.5,673.7"/>
<path d="M1045.5,679.4 C1048.9,680.6 1058.9,684.6 1066.0,686.7 C1073.1,688.8 1080.1,690.4 1088.0,692.0 C1095.9,693.6 1104.2,695.1 1113.3,696.1 C1122.4,697.1 1137.6,697.5 1142.5,697.8"/>
<path d="M1142.5,603.0 C1145.7,600.3 1153.0,592.8 1161.4,587.0 C1169.8,581.2 1182.4,573.2 1192.9,568.2 C1203.4,563.2 1214.9,559.6 1224.3,557.2 C1233.7,554.8 1241.6,554.2 1249.5,554.0 C1257.4,553.8 1262.6,554.1 1271.5,556.2 C1280.4,558.3 1292.4,562.5 1302.9,566.6 C1313.4,570.7 1323.8,576.2 1334.3,580.7 C1344.8,585.2 1356.4,590.0 1365.8,593.3 C1375.2,596.5 1382.3,598.5 1390.9,600.2 C1399.5,601.9 1413.1,602.9 1417.6,603.4"/>
<path d="M1142.5,697.8 C1145.7,695.2 1153.0,688.5 1161.4,682.2 C1169.8,675.9 1182.4,667.0 1192.9,660.2 C1203.4,653.4 1213.8,647.1 1224.3,641.3 C1234.8,635.5 1245.2,630.0 1255.7,625.6 C1266.2,621.2 1276.7,617.9 1287.2,615.2 C1297.7,612.5 1308.1,610.7 1318.6,609.2 C1329.1,607.7 1339.5,606.9 1350.0,606.1 C1360.5,605.3 1370.2,604.7 1381.5,604.2 C1392.8,603.8 1411.6,603.5 1417.6,603.4"/>
<path d="M1142.5,673.7 C1145.7,675.1 1153.0,679.1 1161.4,682.2 C1169.8,685.3 1182.4,690.0 1192.9,692.5 C1203.4,695.0 1216.5,696.2 1224.3,697.0 C1232.1,697.8 1234.8,697.4 1240.0,697.3 C1245.2,697.2 1247.8,697.8 1255.7,696.3 C1263.6,694.8 1276.7,692.4 1287.2,688.5 C1297.7,684.6 1308.1,679.2 1318.6,672.7 C1329.1,666.2 1340.6,656.8 1350.0,649.2 C1359.4,641.6 1367.3,633.5 1375.2,627.2 C1383.1,620.9 1390.1,615.4 1397.2,611.4 C1404.3,607.4 1414.2,604.7 1417.6,603.4"/>
<path d="M1350.0,462.5 C1352.6,465.7 1360.5,475.6 1365.8,481.7 C1371.0,487.8 1376.3,493.5 1381.5,499.0 C1386.7,504.5 1392.5,510.3 1397.2,514.7 C1401.9,519.2 1406.4,523.3 1409.8,525.7 C1413.2,528.1 1415.0,528.7 1417.6,528.9 C1420.2,529.1 1422.1,528.8 1425.5,526.7 C1428.9,524.6 1433.3,520.9 1438.0,516.3 C1442.7,511.7 1448.5,505.0 1453.8,499.0 C1459.0,493.0 1464.8,486.2 1469.5,480.1 C1474.2,474.0 1480.2,465.4 1482.3,462.5"/>
<path d="M1417.6,603.4 C1422.1,602.9 1434.7,602.2 1444.4,600.2 C1454.1,598.2 1465.3,595.0 1475.8,591.7 C1486.3,588.5 1496.7,584.4 1507.2,580.7 C1517.7,577.0 1528.2,573.1 1538.7,569.7 C1549.2,566.3 1559.6,562.9 1570.1,560.3 C1580.6,557.7 1589.8,555.6 1601.5,554.0 C1613.2,552.4 1633.6,551.4 1640.0,550.9"/>
<path d="M1417.6,603.4 C1420.0,604.5 1427.3,607.2 1431.8,609.9 C1436.3,612.5 1439.7,615.1 1444.4,619.3 C1449.1,623.5 1454.9,629.6 1460.1,635.0 C1465.3,640.4 1470.6,646.2 1475.8,651.7 C1481.0,657.2 1486.3,662.9 1491.5,668.0 C1496.7,673.1 1502.0,677.9 1507.2,682.2 C1512.5,686.5 1517.8,690.3 1523.0,693.8 C1528.2,697.3 1533.5,700.4 1538.7,703.2 C1543.9,706.0 1549.2,708.4 1554.4,710.5 C1559.6,712.6 1564.9,714.3 1570.1,715.8 C1575.3,717.3 1580.6,718.4 1585.8,719.3 C1591.0,720.2 1595.7,720.6 1601.5,721.1 C1607.3,721.6 1614.0,721.9 1620.4,722.1 C1626.8,722.3 1636.7,722.4 1640.0,722.4"/>
</g>
<g fill="none" stroke="#0b0b08" stroke-width="4.1" stroke-linejoin="round">
<rect x="649.6" y="464" width="991.4" height="303.8"/>
<path d="M649.6,549.9 H1641 M916.8,464 V767.8 M1045.8,464 V767.8 M1142.5,464 V767.8 M1417.4,464 V767.8"/>
<path stroke-linecap="round" d="M649.6,506.8 h8.5 M649.6,593.4 h8.5 M649.6,635.2 h8.5 M649.6,678.7 h8.5 M649.6,722 h8.5"/>
</g>
<defs><linearGradient id="cb" x1="0" y1="1" x2="0" y2="0"><stop offset="0.000" stop-color="#0a0a06"/><stop offset="0.030" stop-color="#1c130c"/><stop offset="0.050" stop-color="#2c1b10"/><stop offset="0.075" stop-color="#4a2a17"/><stop offset="0.100" stop-color="#6e391e"/><stop offset="0.115" stop-color="#804022"/><stop offset="0.133" stop-color="#a04f20"/><stop offset="0.150" stop-color="#cc6420"/><stop offset="0.169" stop-color="#f07820"/><stop offset="0.200" stop-color="#f59025"/><stop offset="0.240" stop-color="#f8b030"/><stop offset="0.287" stop-color="#f3e545"/><stop offset="0.320" stop-color="#d5dc30"/><stop offset="0.358" stop-color="#a5cc18"/><stop offset="0.400" stop-color="#7cc408"/><stop offset="0.486" stop-color="#78c408"/><stop offset="0.534" stop-color="#74c410"/><stop offset="0.570" stop-color="#60c450"/><stop offset="0.597" stop-color="#50c890"/><stop offset="0.612" stop-color="#40b4a8"/><stop offset="0.636" stop-color="#38a0a8"/><stop offset="0.685" stop-color="#348084"/><stop offset="0.720" stop-color="#3c5c5c"/><stop offset="0.745" stop-color="#504c4c"/><stop offset="0.775" stop-color="#807e7e"/><stop offset="0.800" stop-color="#b0aeae"/><stop offset="0.823" stop-color="#d8d8d8"/><stop offset="0.845" stop-color="#ffffff"/><stop offset="0.900" stop-color="#ffffff"/><stop offset="0.913" stop-color="#c8dcf4"/><stop offset="0.937" stop-color="#6a94d4"/><stop offset="0.960" stop-color="#4068b8"/><stop offset="0.980" stop-color="#3448a8"/><stop offset="1.000" stop-color="#3448a8"/></linearGradient></defs>
<rect x="1562" y="55" width="22" height="243" fill="url(#cb)"/>
<g stroke="#0b0b08" stroke-width="2.6">
<path d="M1583,56.5 h9"/>
<path d="M1583,104.7 h9"/>
<path d="M1583,152.9 h9"/>
<path d="M1583,200.8 h9"/>
<path d="M1583,248.9 h9"/>
<path d="M1583,297.0 h9"/>
</g>
<text x="1595.0" y="62.8" font-family='"Liberation Sans", sans-serif' font-size="17.5" fill="#0b0b08" text-anchor="start" >1.0</text>
<text x="1595.0" y="111.0" font-family='"Liberation Sans", sans-serif' font-size="17.5" fill="#0b0b08" text-anchor="start" >0.8</text>
<text x="1595.0" y="159.2" font-family='"Liberation Sans", sans-serif' font-size="17.5" fill="#0b0b08" text-anchor="start" >0.6</text>
<text x="1595.0" y="207.1" font-family='"Liberation Sans", sans-serif' font-size="17.5" fill="#0b0b08" text-anchor="start" >0.4</text>
<text x="1595.0" y="255.2" font-family='"Liberation Sans", sans-serif' font-size="17.5" fill="#0b0b08" text-anchor="start" >0.2</text>
<text x="1595.0" y="303.3" font-family='"Liberation Sans", sans-serif' font-size="17.5" fill="#0b0b08" text-anchor="start" >0</text>
<text transform="translate(1627,102.8) rotate(90)" font-family='"Liberation Sans", sans-serif' font-size="18.2" fill="#0b0b08">Intensity (arb. unit)</text>
<text x="-0.6" y="38.6" font-family='"Liberation Sans", sans-serif' font-size="29.6" fill="#0b0b08" text-anchor="start" >(a)</text>
<text x="96.0" y="24.3" font-family='"Liberation Sans", sans-serif' font-size="34.7" fill="#0b0b08" text-anchor="start" ><tspan font-family='"Liberation Serif", serif'>Γ</tspan>-K-L-K-X plane</text>
<text x="3.5" y="518.0" font-family='"Liberation Sans", sans-serif' font-size="31.8" fill="#0b0b08" text-anchor="start" >(b)</text>
<text x="145.5" y="515.0" font-family='"Liberation Sans", sans-serif' font-size="34.7" fill="#0b0b08" text-anchor="start" ><tspan font-family='"Liberation Serif", serif'>Γ</tspan>-X-W-K plane</text>
<text x="359.0" y="154.2" font-family='"Liberation Sans", sans-serif' font-size="29.0" fill="#0b0b08" text-anchor="start" letter-spacing="0.35">h<tspan font-family='"Liberation Serif", serif' font-size="33">ν</tspan>=118eV</text>
<text x="367.0" y="292.2" font-family='"Liberation Sans", sans-serif' font-size="29.0" fill="#0b0b08" text-anchor="start" letter-spacing="0.35">h<tspan font-family='"Liberation Serif", serif' font-size="33">ν</tspan>=70eV</text>
<text x="363.0" y="376.4" font-family='"Liberation Sans", sans-serif' font-size="29.0" fill="#0b0b08" text-anchor="start" letter-spacing="0.35">h<tspan font-family='"Liberation Serif", serif' font-size="33">ν</tspan>=30eV</text>
<text x="381.0" y="644.2" font-family='"Liberation Sans", sans-serif' font-size="29.0" fill="#0b0b08" text-anchor="start" letter-spacing="0.35">h<tspan font-family='"Liberation Serif", serif' font-size="33">ν</tspan>=118eV</text>
<text x="389.0" y="770.8" font-family='"Liberation Sans", sans-serif' font-size="29.0" fill="#0b0b08" text-anchor="start" letter-spacing="0.35">h<tspan font-family='"Liberation Serif", serif' font-size="33">ν</tspan>=70eV</text>
<text x="385.0" y="868.5" font-family='"Liberation Sans", sans-serif' font-size="29.0" fill="#0b0b08" text-anchor="start" letter-spacing="0.35">h<tspan font-family='"Liberation Serif", serif' font-size="33">ν</tspan>=30eV</text>
<text x="246.0" y="124.0" font-family='"Liberation Sans", sans-serif' font-size="27.0" fill="#0b0b08" text-anchor="start" >K</text>
<text x="194.8" y="184.8" font-family='"Liberation Sans", sans-serif' font-size="27.0" fill="#0b0b08" text-anchor="start" >L</text>
<text x="121.4" y="231.3" font-family='"Liberation Sans", sans-serif' font-size="27.0" fill="#0b0b08" text-anchor="start" >X</text>
<text x="163.8" y="228.8" font-family='"Liberation Sans", sans-serif' font-size="27.0" fill="#0b0b08" text-anchor="start" >K</text>
<text x="218.3" y="292.2" font-family='"Liberation Sans", sans-serif' font-size="27.0" fill="#0b0b08" text-anchor="start" >L</text>
<text x="286.2" y="332.2" font-family='"Liberation Sans", sans-serif' font-size="27.0" fill="#0b0b08" text-anchor="start" >X</text>
<text x="246.3" y="375.6" font-family='"Liberation Sans", sans-serif' font-size="27.0" fill="#0b0b08" text-anchor="start" >K</text>
<text x="266.8" y="641.2" font-family='"Liberation Sans", sans-serif' font-size="27.0" fill="#0b0b08" text-anchor="start" >X</text>
<text x="264.3" y="687.2" font-family='"Liberation Sans", sans-serif' font-size="27.0" fill="#0b0b08" text-anchor="start" >W</text>
<text x="137.6" y="719.3" font-family='"Liberation Sans", sans-serif' font-size="27.0" fill="#0b0b08" text-anchor="start" >X</text>
<text x="190.2" y="719.3" font-family='"Liberation Sans", sans-serif' font-size="27.0" fill="#0b0b08" text-anchor="start" >W</text>
<text x="266.8" y="740.3" font-family='"Liberation Sans", sans-serif' font-size="27.0" fill="#0b0b08" text-anchor="start" >X</text>
<text x="209.2" y="779.3" font-family='"Liberation Sans", sans-serif' font-size="27.0" fill="#0b0b08" text-anchor="start" >K</text>
<text x="266.8" y="796.3" font-family='"Liberation Sans", sans-serif' font-size="27.0" fill="#0b0b08" text-anchor="start" >W</text>
<text x="266.8" y="839.4" font-family='"Liberation Sans", sans-serif' font-size="27.0" fill="#0b0b08" text-anchor="start" >X</text>
<text x="127.0" y="172.8" font-family='"Liberation Serif", serif' font-size="28.0" fill="#0b0b08" text-anchor="start" >Γ</text>
<text x="243.5" y="189.8" font-family='"Liberation Serif", serif' font-size="28.0" fill="#0b0b08" text-anchor="start" >Γ</text>
<text x="272.0" y="276.2" font-family='"Liberation Serif", serif' font-size="28.0" fill="#0b0b08" text-anchor="start" >Γ</text>
<text x="127.0" y="373.6" font-family='"Liberation Serif", serif' font-size="28.0" fill="#0b0b08" text-anchor="start" >Γ</text>
<text x="141.0" y="659.2" font-family='"Liberation Serif", serif' font-size="28.0" fill="#0b0b08" text-anchor="start" >Γ</text>
<text x="141.0" y="857.9" font-family='"Liberation Serif", serif' font-size="28.0" fill="#0b0b08" text-anchor="start" >Γ</text>
<text x="151.0" y="77.7" font-family='"Liberation Serif", serif' font-size="25.5" fill="#0b0b08" text-anchor="start" >k<tspan font-size="19" dy="3.5">z</tspan></text>
<text x="167.0" y="567.6" font-family='"Liberation Serif", serif' font-size="25.5" fill="#0b0b08" text-anchor="start" >k<tspan font-size="19" dy="3.5">z</tspan></text>
<text x="570.0" y="42.3" font-family='"Liberation Sans", sans-serif' font-size="32.3" fill="#0b0b08" text-anchor="start" >(c)</text>
<text x="569.3" y="478.6" font-family='"Liberation Sans", sans-serif' font-size="31.8" fill="#0b0b08" text-anchor="start" >(d)</text>
<text x="641.5" y="32.0" font-family='"Liberation Serif", serif' font-size="37.5" fill="#0b0b08" text-anchor="start" >Γ</text>
<text x="915.2" y="31.6" font-family='"Liberation Sans", sans-serif' font-size="37.5" fill="#0b0b08" text-anchor="middle" >X</text>
<text x="1046.8" y="31.6" font-family='"Liberation Sans", sans-serif' font-size="37.5" fill="#0b0b08" text-anchor="middle" >W</text>
<text x="1145.0" y="31.6" font-family='"Liberation Sans", sans-serif' font-size="37.5" fill="#0b0b08" text-anchor="middle" >K</text>
<text x="1402.5" y="32.0" font-family='"Liberation Serif", serif' font-size="37.5" fill="#0b0b08" text-anchor="start" >Γ</text>
<text x="1446.7" y="31.6" font-family='"Liberation Sans", sans-serif' font-size="37.5" fill="#0b0b08" text-anchor="middle" >X</text>
<text x="1533.7" y="31.6" font-family='"Liberation Sans", sans-serif' font-size="37.5" fill="#0b0b08" text-anchor="middle" >U</text>
<text x="828.3" y="89.0" font-family='"Liberation Sans", sans-serif' font-size="37.0" fill="#ffffff" text-anchor="start" >CdO</text>
<text x="641.5" y="808.7" font-family='"Liberation Serif", serif' font-size="37.5" fill="#0b0b08" text-anchor="start" >Γ</text>
<text x="915.0" y="808.8" font-family='"Liberation Sans", sans-serif' font-size="38.5" fill="#0b0b08" text-anchor="middle" >X</text>
<text x="1045.2" y="807.7" font-family='"Liberation Sans", sans-serif' font-size="38.5" fill="#0b0b08" text-anchor="middle" >W</text>
<text x="1143.8" y="805.9" font-family='"Liberation Sans", sans-serif' font-size="38.5" fill="#0b0b08" text-anchor="middle" >K</text>
<text x="1406.3" y="806.9" font-family='"Liberation Serif", serif' font-size="37.5" fill="#0b0b08" text-anchor="start" >Γ</text>
<text x="1628.4" y="805.5" font-family='"Liberation Sans", sans-serif' font-size="38.5" fill="#0b0b08" text-anchor="start" >L</text>
<text x="637.0" y="87.5" font-family='"Liberation Sans", sans-serif' font-size="32.5" fill="#0b0b08" text-anchor="end" >0</text>
<text x="637.0" y="173.7" font-family='"Liberation Sans", sans-serif' font-size="32.5" fill="#0b0b08" text-anchor="end" >2</text>
<text x="637.0" y="259.8" font-family='"Liberation Sans", sans-serif' font-size="32.5" fill="#0b0b08" text-anchor="end" >4</text>
<text x="637.0" y="345.6" font-family='"Liberation Sans", sans-serif' font-size="32.5" fill="#0b0b08" text-anchor="end" >6</text>
<text x="637.0" y="434.3" font-family='"Liberation Sans", sans-serif' font-size="32.5" fill="#0b0b08" text-anchor="end" >8</text>
<text x="639.0" y="561.7" font-family='"Liberation Sans", sans-serif' font-size="32.5" fill="#0b0b08" text-anchor="end" >0</text>
<text x="639.0" y="647.0" font-family='"Liberation Sans", sans-serif' font-size="32.5" fill="#0b0b08" text-anchor="end" >2</text>
<text x="639.0" y="733.7" font-family='"Liberation Sans", sans-serif' font-size="32.5" fill="#0b0b08" text-anchor="end" >4</text>
<text transform="translate(599,385.5) rotate(-90)" font-family='"Liberation Sans", sans-serif' font-size="31.9" fill="#0b0b08">Binding Energy (eV)</text>
<text transform="translate(600.3,783.6) rotate(-90)" font-family='"Liberation Sans", sans-serif' font-size="31.9" fill="#0b0b08">Binding Energy (eV)</text>
</svg>
</body></html>
